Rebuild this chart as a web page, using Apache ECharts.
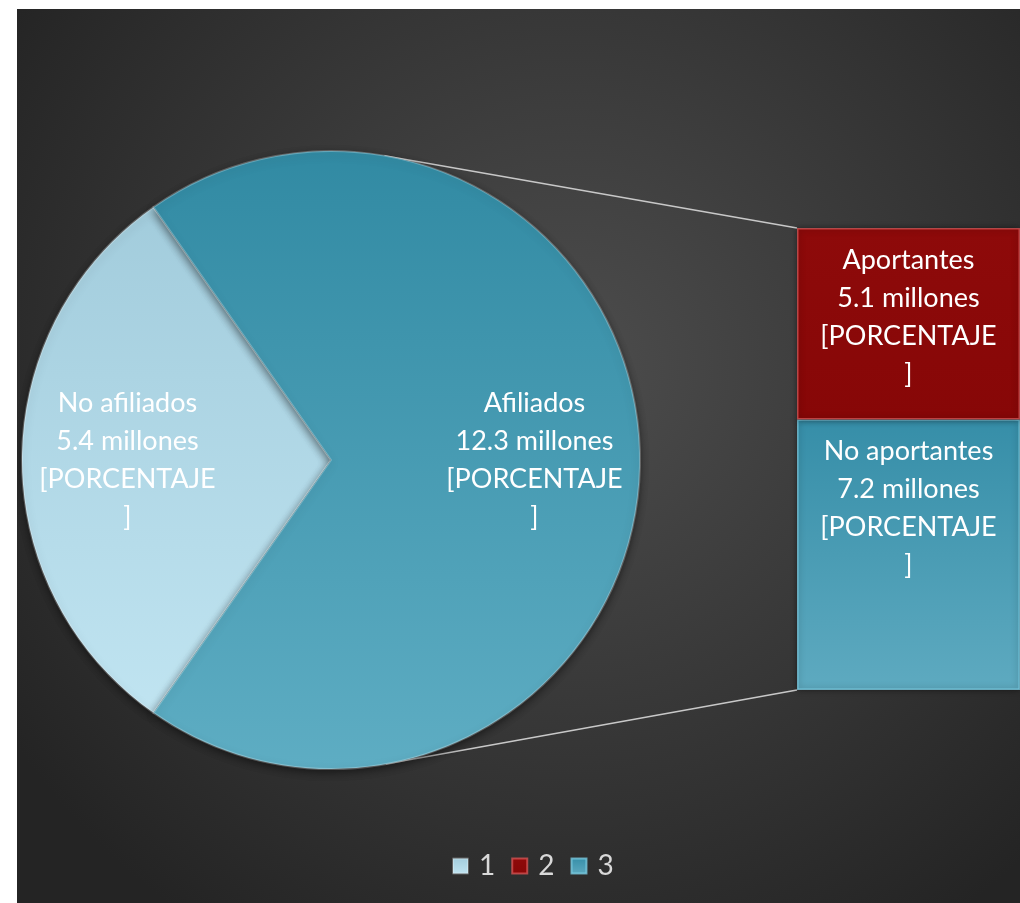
<!DOCTYPE html>
<html>
<head>
<meta charset="utf-8">
<script src="https://cdn.jsdelivr.net/npm/echarts@6/dist/echarts.min.js"></script>
<style>
  html, body { margin: 0; padding: 0; background: #ffffff; }
  #chart { position: absolute; left: 17px; top: 9px; width: 1003px; height: 894px; }
</style>
</head>
<body>
<div id="chart"></div>
<script>
// datos del gráfico
const pieNames = ['No afiliados', 'Afiliados']
const pieValues = [5.4, 12.3]
const pieKeys = ['1', '3']
const barNames = ['Aportantes', 'No aportantes']
const barValues = [5.1, 7.2]
const barKeys = ['2', '3']
const legendLabels = ['1', '2', '3']

const W = 1003
const H = 894
const pieCenter = [314, 451]
const pieRadius = 309
const gridLeft = 780
const gridTop = 219
const gridBottom = 213

const font = 'Lato, "Open Sans", sans-serif'
const labelText = (name, value) => `${name}\n${value} millones\n[PORCENTAJE\n]`

const pieTotal = pieValues.reduce((a, b) => a + b, 0)
const startAngle = 180 + (360 * pieValues[0] / pieTotal) / 2
const barTotal = barValues.reduce((a, b) => a + b, 0)

const grad = (c1, c2) => new echarts.graphic.LinearGradient(0, 0, 0, 1, [
  { offset: 0, color: c1 },
  { offset: 1, color: c2 }
])
const pieColors = [grad('#a2ccdc', '#c0e4f1'), grad('#318aa3', '#5eadc3')]

// líneas de conexión tangentes al círculo
const tangentPoint = (px, py, side) => {
  const dx = px - pieCenter[0]
  const dy = py - pieCenter[1]
  const d = Math.sqrt(dx * dx + dy * dy)
  const base = Math.atan2(dy, dx)
  const off = Math.acos(pieRadius / d)
  const a = base + side * off
  return [pieCenter[0] + pieRadius * Math.cos(a), pieCenter[1] + pieRadius * Math.sin(a)]
}
const barTopY = gridTop
const barBottomY = H - gridBottom
const t1 = tangentPoint(gridLeft, barTopY, -1)
const t2 = tangentPoint(gridLeft, barBottomY, 1)

const chart = echarts.init(document.getElementById('chart'))

const labelStyle = {
  color: '#ffffff',
  fontSize: 27,
  lineHeight: 38,
  fontFamily: font
}

const option = {
  animation: false,
  textStyle: { fontFamily: font },
  graphic: [
    {
      type: 'rect',
      z: -10,
      silent: true,
      shape: { x: 0, y: 0, width: W, height: H },
      style: {
        fill: new echarts.graphic.RadialGradient(0.55, 0.4, 0.75, [
          { offset: 0, color: '#4d4d4d' },
          { offset: 1, color: '#242424' }
        ])
      }
    },
    {
      type: 'line',
      z: 1,
      silent: true,
      shape: { x1: t1[0], y1: t1[1], x2: gridLeft, y2: barTopY },
      style: { stroke: '#c8c8c8', lineWidth: 1.5 }
    },
    {
      type: 'line',
      z: 1,
      silent: true,
      shape: { x1: t2[0], y1: t2[1], x2: gridLeft, y2: barBottomY },
      style: { stroke: '#c8c8c8', lineWidth: 1.5 }
    }
  ],
  legend: {
    data: legendLabels,
    left: 430,
    top: 838,
    itemWidth: 15,
    itemHeight: 15,
    itemGap: 16,
    icon: 'rect',
    textStyle: { color: '#d9d9d9', fontSize: 28, fontFamily: font, padding: [0, 0, 0, 6] },
    selectedMode: false
  },
  grid: {
    left: gridLeft,
    right: 0,
    top: gridTop,
    bottom: gridBottom
  },
  xAxis: {
    type: 'category',
    data: [''],
    show: false
  },
  yAxis: {
    type: 'value',
    min: 0,
    max: barTotal,
    show: false
  },
  series: [
    {
      name: 'pie',
      type: 'pie',
      center: pieCenter,
      radius: [0, pieRadius],
      startAngle: startAngle,
      z: 3,
      label: { show: false },
      labelLine: { show: false },
      itemStyle: {
        borderColor: 'rgba(255,255,255,0.25)',
        borderWidth: 2,
        shadowBlur: 10,
        shadowColor: 'rgba(0,0,0,0.55)',
        shadowOffsetY: 3
      },
      data: pieValues.map((v, i) => ({
        name: pieKeys[i],
        value: v,
        itemStyle: { color: pieColors[i] }
      }))
    },
    {
      name: 'pieLabels',
      type: 'pie',
      center: pieCenter,
      radius: [92, pieRadius],
      startAngle: startAngle,
      silent: true,
      z: 4,
      itemStyle: { color: 'rgba(0,0,0,0)' },
      label: Object.assign({
        show: true,
        position: 'inside',
        formatter: (p) => labelText(pieNames[p.dataIndex], pieValues[p.dataIndex])
      }, labelStyle),
      labelLine: { show: false },
      data: pieValues.map((v, i) => ({ name: 'lbl' + i, value: v }))
    },
    {
      name: barKeys[1],
      type: 'bar',
      stack: 'total',
      barWidth: '100%',
      itemStyle: {
        color: grad('#368ea8', '#5eaac0'),
        borderColor: 'rgba(130,215,240,0.7)',
        borderWidth: 1.5,
        shadowBlur: 6,
        shadowColor: 'rgba(0,0,0,0.5)'
      },
      label: Object.assign({
        show: true,
        position: 'insideTop',
        distance: 13,
        formatter: () => labelText(barNames[1], barValues[1])
      }, labelStyle),
      data: [barValues[1]]
    },
    {
      name: barKeys[0],
      type: 'bar',
      stack: 'total',
      barWidth: '100%',
      itemStyle: {
        color: grad('#8e0a0a', '#870707'),
        borderColor: 'rgba(230,90,90,0.7)',
        borderWidth: 1.5,
        shadowBlur: 6,
        shadowColor: 'rgba(0,0,0,0.5)'
      },
      label: Object.assign({
        show: true,
        position: 'insideTop',
        distance: 13,
        formatter: () => labelText(barNames[0], barValues[0])
      }, labelStyle),
      data: [barValues[0]]
    }
  ]
}

chart.setOption(option)
</script>
</body>
</html>
